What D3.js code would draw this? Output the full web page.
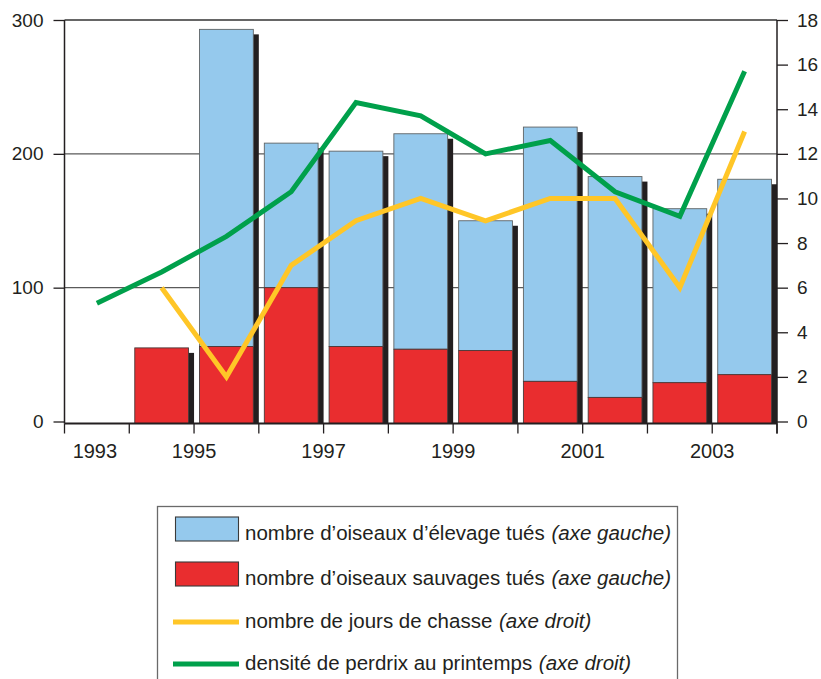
<!DOCTYPE html>
<html>
<head>
<meta charset="utf-8">
<script src="https://cdn.jsdelivr.net/npm/d3@7/dist/d3.min.js"></script>
<style>
  html, body { margin: 0; padding: 0; background: #fff; }
  svg { display: block; font-family: "Liberation Sans", Arial, Helvetica, sans-serif; }
</style>
</head>
<body>
<svg id="chart" width="821" height="679"></svg>
<script>
// ---- data ----
const years = [1993, 1994, 1995, 1996, 1997, 1998, 1999, 2000, 2001, 2002, 2003];
const sauvages = [null, 55, 56, 100, 56, 54, 53, 30, 18, 29, 35];
const elevage  = [null, 0, 237, 108, 146, 161, 97, 190, 165, 130, 146];
const joursChasse = [null, 6, 2, 7, 9, 10, 9, 10, 10, 6, 13];
const densitePerdrix = [5.3, 6.7, 8.3, 10.3, 14.3, 13.7, 12.0, 12.6, 10.3, 9.2, 15.7];
const leftTicks = [0, 100, 200, 300];
const rightTicks = [0, 2, 4, 6, 8, 10, 12, 14, 16, 18];
const xTickLabels = ["1993", "1995", "1997", "1999", "2001", "2003"];
const legendItems = [
  { type: "rect", color: "#95C9ED", text: "nombre d\u2019oiseaux d\u2019\u00e9levage tu\u00e9s", note: "(axe gauche)" },
  { type: "rect", color: "#E92D2F", text: "nombre d\u2019oiseaux sauvages tu\u00e9s", note: "(axe gauche)" },
  { type: "line", color: "#FFC627", text: "nombre de jours de chasse", note: "(axe droit)" },
  { type: "line", color: "#00A04B", text: "densit\u00e9 de perdrix au printemps", note: "(axe droit)" }
];

(function () {
// ---- layout ----
const BLUE = "#95C9ED", RED = "#E92D2F", YELLOW = "#FFC627", GREEN = "#00A04B";
const SHADOW = "#231F20", INK = "#231F20", GRID = "#5a5a5a";
const svg = d3.select("#chart");
const pLeft = 64.5, pRight = 777, pTop = 20, zeroY = 421.5, axisY = 423.5;

const x = d3.scaleBand().domain(years).range([pLeft, pRight]).paddingInner(0).paddingOuter(0);
const yL = d3.scaleLinear().domain([0, 300]).range([zeroY, pTop]);
const yR = d3.scaleLinear().domain([0, 18]).range([zeroY, pTop]);
const bw = x.bandwidth();

// gridlines (behind bars)
svg.append("g").selectAll("line").data([100, 200]).join("line")
  .attr("x1", pLeft).attr("x2", pRight)
  .attr("y1", d => yL(d)).attr("y2", d => yL(d))
  .attr("stroke", GRID).attr("stroke-width", 1.3);

// top frame
svg.append("line").attr("x1", pLeft).attr("x2", pRight).attr("y1", yL(300)).attr("y2", yL(300))
  .attr("stroke", "#333").attr("stroke-width", 1.3);

// bars
const barData = years.map((yr, i) => ({ yr, s: sauvages[i], e: elevage[i] })).filter(d => d.s != null);
const padL = 5.5, faceW = bw - 11, off = 5.5;
const bars = svg.append("g");
barData.forEach(d => {
  const total = d.s + (d.e || 0);
  const bx = x(d.yr) + padL;
  const tY = yL(total);
  bars.append("rect").attr("x", bx + off).attr("y", tY + 5).attr("width", faceW)
    .attr("height", axisY - (tY + 5)).attr("fill", SHADOW);
  if (d.e) {
    bars.append("rect").attr("x", bx).attr("y", tY).attr("width", faceW)
      .attr("height", yL(d.s) - tY).attr("fill", BLUE).attr("stroke", "#5f6466").attr("stroke-width", 0.9);
  }
  bars.append("rect").attr("x", bx).attr("y", yL(d.s)).attr("width", faceW)
    .attr("height", axisY - yL(d.s)).attr("fill", RED).attr("stroke", "#4a3a3a").attr("stroke-width", 0.9);
});

// lines
const lineGen = d3.line().defined(d => d.v != null)
  .x(d => x(d.yr) + bw / 2).y(d => yR(d.v));
[[joursChasse, YELLOW], [densitePerdrix, GREEN]].forEach(([arr, col]) => {
  svg.append("path").datum(years.map((yr, i) => ({ yr, v: arr[i] })))
    .attr("d", lineGen).attr("fill", "none").attr("stroke", col)
    .attr("stroke-width", 5).attr("stroke-linejoin", "miter").attr("stroke-miterlimit", 10);
});

// left axis
const gL = svg.append("g").attr("transform", `translate(${pLeft},0)`)
  .call(d3.axisLeft(yL).tickValues(leftTicks).tickSize(11).tickPadding(10).tickFormat(d3.format("d")));
gL.select(".domain").remove();
gL.selectAll(".tick line").attr("stroke", INK).attr("stroke-width", 1.3);
gL.selectAll(".tick text").attr("font-size", 19).attr("fill", INK).attr("font-family", "Liberation Sans, Arial, sans-serif");
svg.append("line").attr("x1", pLeft).attr("x2", pLeft).attr("y1", pTop).attr("y2", axisY)
  .attr("stroke", INK).attr("stroke-width", 1.5);

// right axis
const gR = svg.append("g").attr("transform", `translate(${pRight},0)`)
  .call(d3.axisRight(yR).tickValues(rightTicks).tickSize(11).tickPadding(9));
gR.select(".domain").remove();
gR.selectAll(".tick line").attr("stroke", INK).attr("stroke-width", 1.3);
gR.selectAll(".tick text").attr("font-size", 19).attr("fill", INK).attr("font-family", "Liberation Sans, Arial, sans-serif");
svg.append("line").attr("x1", pRight).attr("x2", pRight).attr("y1", pTop).attr("y2", axisY + 10)
  .attr("stroke", INK).attr("stroke-width", 1.5);

// bottom axis
svg.append("line").attr("x1", pLeft).attr("x2", pRight).attr("y1", axisY).attr("y2", axisY)
  .attr("stroke", INK).attr("stroke-width", 1.8);
const boundaries = years.map(yr => x(yr)).concat([x(years[years.length - 1]) + bw]);
svg.append("g").selectAll("line").data(boundaries).join("line")
  .attr("x1", d => d).attr("x2", d => d).attr("y1", axisY).attr("y2", axisY + 10)
  .attr("stroke", INK).attr("stroke-width", 1.3);
svg.append("g").selectAll("text").data(xTickLabels).join("text")
  .attr("x", (d, i) => i === 0 ? x(+d) + bw / 2 - 2 : x(+d - 1) + bw)
  .attr("y", 458).attr("text-anchor", "middle").attr("font-size", 20).attr("fill", INK)
  .text(d => d);

// legend
svg.append("rect").attr("x", 157.5).attr("y", 506.5).attr("width", 520).attr("height", 200)
  .attr("fill", "none").attr("stroke", "#6a6a6a").attr("stroke-width", 1.3);
const rowsY = [540, 585, 628, 670];
const lg = svg.append("g");
legendItems.forEach((it, i) => {
  const by = rowsY[i];
  if (it.type === "rect") {
    lg.append("rect").attr("x", 175.5).attr("y", by - 23).attr("width", 63).attr("height", 24)
      .attr("fill", it.color).attr("stroke", "#3a3a3a").attr("stroke-width", 1.1);
  } else {
    lg.append("line").attr("x1", 173).attr("x2", 239).attr("y1", by - 6).attr("y2", by - 6)
      .attr("stroke", it.color).attr("stroke-width", 5);
  }
  const t = lg.append("text").attr("x", 245).attr("y", by).attr("font-size", 20.5).attr("fill", INK);
  t.append("tspan").text(it.text + "\u00a0");
  t.append("tspan").attr("dx", 1).attr("font-style", "italic").text(it.note);
});
})();
</script>
</body>
</html>
